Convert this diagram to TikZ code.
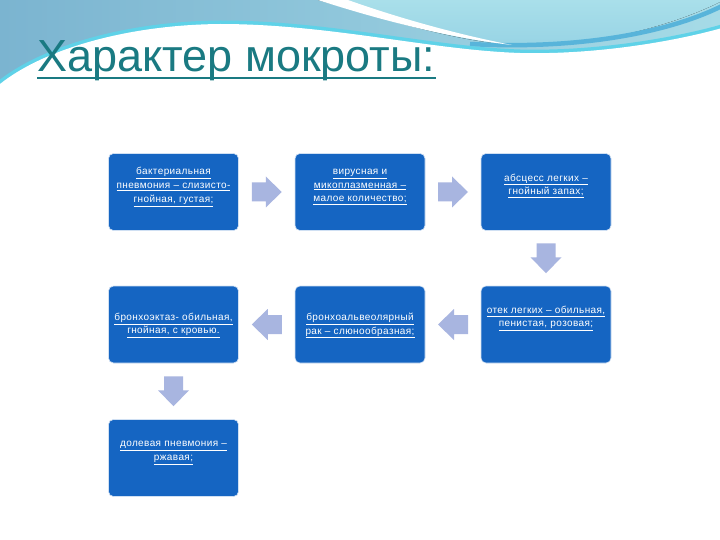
\documentclass[tikz,border=0pt]{standalone}
\usepackage{fontspec}
\setmainfont{Liberation Sans}
\newfontfamily\boxfont[LetterSpace=4]{Liberation Sans}
\newcommand\myul[1]{$\underline{\hbox{#1}}$}
\usetikzlibrary{calc}
\definecolor{boxblue}{HTML}{1565C2}
\definecolor{arrowc}{HTML}{A8B5E0}
\definecolor{titlec}{HTML}{1A7A82}
\definecolor{bandL}{HTML}{7BB4D0}
\definecolor{bandR}{HTML}{A6DBE7}
\definecolor{cyanedge}{HTML}{5FD2E8}
\definecolor{lightband}{HTML}{A9DFEA}
\definecolor{darkstroke}{HTML}{58B4DA}
\tikzset{
  stepbox/.style={draw=white!80!boxblue, line width=0.6pt, fill=boxblue, rounded corners=5pt,
    minimum width=130pt, minimum height=77pt, inner sep=0pt},
  boxlabel/.style={inner sep=0pt, align=center,
    text=white, font=\boxfont\fontsize{10}{13.7}\selectfont},
  blockarrow/.pic={
    \fill[arrowc] (-15,-9.5) -- (-1,-9.5) -- (-1,-15.5) -- (15,0) -- (-1,15.5) -- (-1,9.5) -- (-15,9.5) -- cycle;
  }
}
\begin{document}
\begin{tikzpicture}[x=1pt,y=-1pt]
\useasboundingbox (0,0) rectangle (720,540);
\fill[white] (0,0) rectangle (720,540);
% header band
\fill[left color=bandL, right color=bandR] (0,0) rectangle (720,100);
\fill[top color=lightband, bottom color=bandR!80!darkstroke] (318,0) .. controls (390,20) and (450,40) .. (512,45) .. controls (600,48) and (680,22) .. (720,2) -- (720,0) -- cycle;
\draw[darkstroke, line width=4.5pt] (470,44) .. controls (580,50) and (670,32) .. (722,6);
\fill[white] (318,0) .. controls (380,20) and (450,38) .. (512,45) .. controls (450,33) and (390,15) .. (348,0) -- cycle;
\draw[cyanedge, line width=7pt] (0,84) .. controls (40,52) and (120,25) .. (220,24) .. controls (330,24) and (430,50) .. (520,53) .. controls (600,55) and (680,40) .. (722,28);
\fill[white] (0,84) .. controls (40,52) and (120,25) .. (220,24) .. controls (330,24) and (430,50) .. (520,53) .. controls (600,55) and (680,40) .. (722,28) -- (722,102) -- (0,102) -- cycle;
% title
\node[anchor=base west, inner sep=0pt, text=titlec, font=\fontsize{45}{50}\selectfont] (title) at (37,72) {Характер мокроты:};
\draw[titlec, line width=2.6pt] ($(title.base west)+(0,6)$) -- ($(title.base east)+(0,6)$);
% boxes
\node[stepbox] (b1) at (173.5,192) {};
\node[stepbox] (b2) at (360,192) {};
\node[stepbox] (b3) at (546,192) {};
\node[stepbox] (b6) at (546,324.5) {};
\node[stepbox] (b5) at (360,324.5) {};
\node[stepbox] (b4) at (173.5,324.5) {};
\node[stepbox] (b7) at (173.5,458) {};
% texts
\node[boxlabel] (t1) at ($(b1.center)+(0,-5)$) {\myul{бактериальная}\\\myul{пневмония – слизисто-}\\\myul{гнойная, густая;}};
\node[boxlabel] (t2) at ($(b2.center)+(0,-5)$) {\myul{вирусная и}\\\myul{микоплазменная –}\\\myul{малое количество;}};
\node[boxlabel] (t3) at ($(b3.center)+(0,-6)$) {\myul{абсцесс легких –}\\\myul{гнойный запах;}};
\node[boxlabel] (t6) at ($(b6.center)+(0,-6)$) {\myul{отек легких – обильная,}\\\myul{пенистая, розовая;}};
\node[boxlabel] (t5) at ($(b5.center)+(0,1)$) {\myul{бронхоальвеолярный}\\\myul{рак – слюнообразная;}};
\node[boxlabel] (t4) at ($(b4.center)+(0,1)$) {\myul{бронхоэктаз- обильная,}\\\myul{гнойная, с кровью.}};
\node[boxlabel] (t7) at ($(b7.center)+(0,-5)$) {\myul{долевая пневмония –}\\\myul{ржавая;}};
% arrows
\pic at ($(b1.east)!0.5!(b2.west)$) {blockarrow};
\pic at ($(b2.east)!0.5!(b3.west)$) {blockarrow};
\pic[rotate=-90] at ($(b3.south)!0.5!(b6.north)$) {blockarrow};
\pic[rotate=180] at ($(b6.west)!0.5!(b5.east)$) {blockarrow};
\pic[rotate=180] at ($(b5.west)!0.5!(b4.east)$) {blockarrow};
\pic[rotate=-90] at ($(b4.south)!0.5!(b7.north)$) {blockarrow};
\end{tikzpicture}
\end{document}
